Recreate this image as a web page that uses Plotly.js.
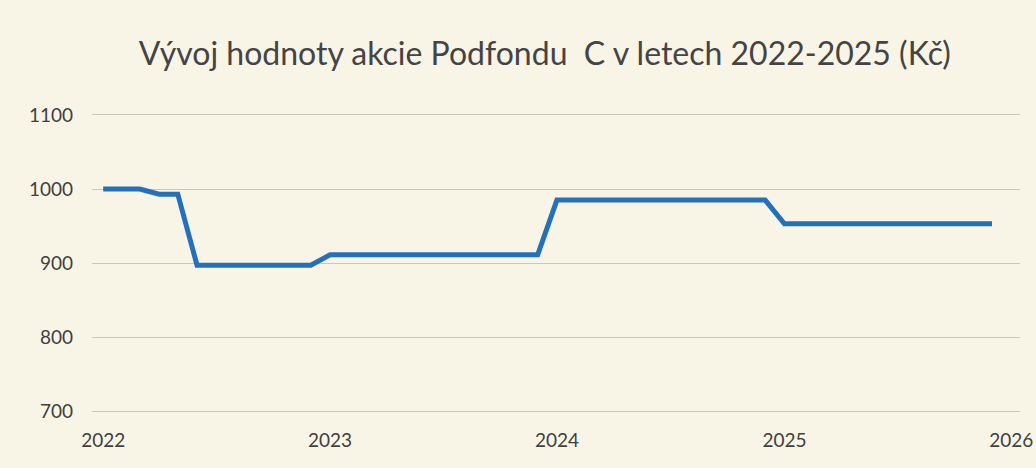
<!DOCTYPE html>
<html>
<head>
<meta charset="utf-8">
<script src="https://cdn.plot.ly/plotly-3.0.1.min.js"></script>
<style>
  html, body { margin: 0; padding: 0; background: #f8f5e7; }
  #chart { width: 1036px; height: 468px; }
</style>
</head>
<body>
<div id="chart"></div>
<script>
// Monthly dates (first day of each month)
const months = [
  '2022-01-01','2022-02-01','2022-03-01','2022-04-01','2022-05-01','2022-06-01',
  '2022-07-01','2022-08-01','2022-09-01','2022-10-01','2022-11-01','2022-12-01',
  '2023-01-01','2023-02-01','2023-03-01','2023-04-01','2023-05-01','2023-06-01',
  '2023-07-01','2023-08-01','2023-09-01','2023-10-01','2023-11-01','2023-12-01',
  '2024-01-01','2024-02-01','2024-03-01','2024-04-01','2024-05-01','2024-06-01',
  '2024-07-01','2024-08-01','2024-09-01','2024-10-01','2024-11-01','2024-12-01',
  '2025-01-01','2025-02-01','2025-03-01','2025-04-01','2025-05-01','2025-06-01',
  '2025-07-01','2025-08-01','2025-09-01','2025-10-01','2025-11-01','2025-12-01'
];
// Share value (CZK)
const shareValue = [
  1000,1000,1000,993,993,897,897,897,897,897,897,897,
  911,911,911,911,911,911,911,911,911,911,911,911,
  985,985,985,985,985,985,985,985,985,985,985,985,
  953,953,953,953,953,953,953,953,953,953,953,953
];
const yTicks = [700, 800, 900, 1000, 1100];
const xTicks = ['2022-01-01','2023-01-01','2024-01-01','2025-01-01','2026-01-01'];
const xTickLabels = ['2022','2023','2024','2025','2026'];
const titleText = 'Vývoj hodnoty akcie Podfondu&nbsp; C v letech 2022-2025 (Kč)';

const trace = {
  x: months,
  y: shareValue,
  type: 'scatter',
  mode: 'lines',
  line: { color: '#2470bd', width: 5, shape: 'linear' },
  hoverinfo: 'x+y'
};

const layout = {
  width: 1036,
  height: 468,
  paper_bgcolor: '#f8f5e7',
  plot_bgcolor: '#f8f5e7',
  margin: { l: 92, r: 16, t: 115, b: 57, pad: 0 },
  showlegend: false,
  font: { family: 'Lato, "Open Sans", sans-serif', color: '#3f3f3f' },
  title: {
    text: titleText,
    font: { family: 'Lato, "Open Sans", sans-serif', size: 32, color: '#444444' },
    x: 0.488, xref: 'paper', xanchor: 'center',
    y: 0.885, yref: 'container', yanchor: 'middle'
  },
  xaxis: {
    type: 'date',
    range: ['2021-12-14', '2026-01-15'],
    tickmode: 'array',
    tickvals: xTicks,
    ticktext: xTickLabels,
    showgrid: false,
    zeroline: false,
    showline: true,
    mirror: true,
    linecolor: '#c9c6bb',
    linewidth: 1,
    ticks: '',
    ticklabelstandoff: 12,
    tickfont: { size: 19, color: '#3f3f3f' }
  },
  yaxis: {
    range: [700, 1100],
    tickmode: 'array',
    tickvals: yTicks,
    showgrid: true,
    gridcolor: '#c9c6bb',
    gridwidth: 1,
    zeroline: false,
    showline: false,
    ticks: '',
    ticklabelstandoff: 18,
    tickfont: { size: 19, color: '#3f3f3f' }
  }
};

Plotly.newPlot('chart', [trace], layout, { displayModeBar: false, staticPlot: true });
</script>
</body>
</html>
